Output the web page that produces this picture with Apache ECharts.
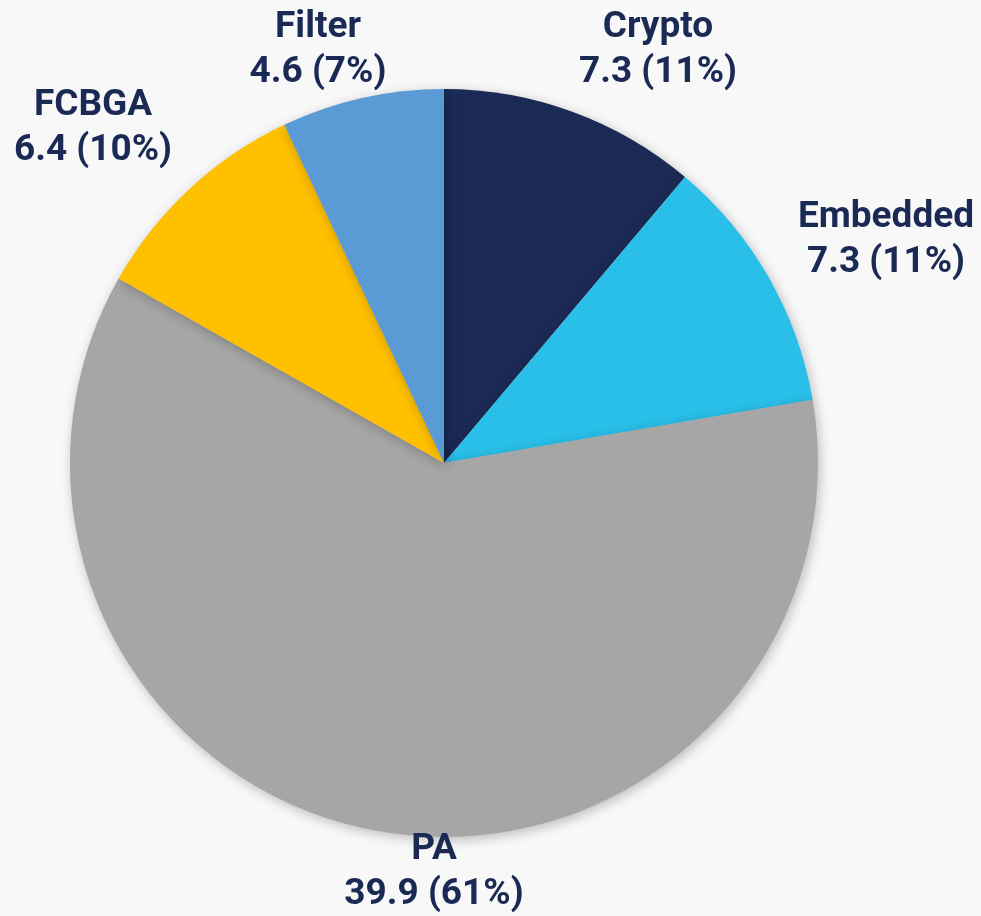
<!DOCTYPE html>
<html>
<head>
<meta charset="utf-8">
<script src="https://cdn.jsdelivr.net/npm/echarts@6/dist/echarts.min.js"></script>
<style>
  html, body { margin: 0; padding: 0; background: #f8f8f8; }
  #chart { width: 981px; height: 916px; }
</style>
</head>
<body>
<div id="chart"></div>
<script>
// segments, clockwise from 12 o'clock
var names = ['Crypto', 'Embedded', 'PA', 'FCBGA', 'Filter'];
var values = [7.3, 7.3, 39.9, 6.4, 4.6];
var colors = ['#1b2a55', '#29bfe8', '#a6a6a6', '#ffc000', '#5b9bd5'];

// where each label block sits (pixel centre)
var labelPos = [[658, 50], [886, 240], [434, 872], [93, 128], [318, 50]];

var chart = echarts.init(document.getElementById('chart'));

var pieData = names.map(function (n, i) {
    return { name: n, value: values[i], itemStyle: { color: colors[i] } };
});

chart.setOption({
    backgroundColor: '#f8f8f8',
    animation: false,
    series: [
        {
            type: 'pie',
            center: [444, 463],
            radius: [0, 374],
            startAngle: 90,
            clockwise: true,
            percentPrecision: 0,
            itemStyle: {
                borderWidth: 0,
                shadowBlur: 12,
                shadowColor: 'rgba(0,0,0,0.25)',
                shadowOffsetX: 2,
                shadowOffsetY: 3
            },
            label: {
                show: true,
                position: 'outside',
                formatter: '{b}\n{c} ({d}%)',
                fontFamily: 'Roboto',
                fontWeight: 'bold',
                fontSize: 37,
                lineHeight: 45,
                color: '#1b2a55',
                align: 'center',
                overflow: 'none',
                width: 300
            },
            labelLine: { show: false },
            labelLayout: function (params) {
                var p = labelPos[params.dataIndex];
                return { x: p[0], y: p[1], align: 'center', verticalAlign: 'middle' };
            },
            emphasis: { disabled: true },
            data: pieData
        }
    ]
});
</script>
</body>
</html>
